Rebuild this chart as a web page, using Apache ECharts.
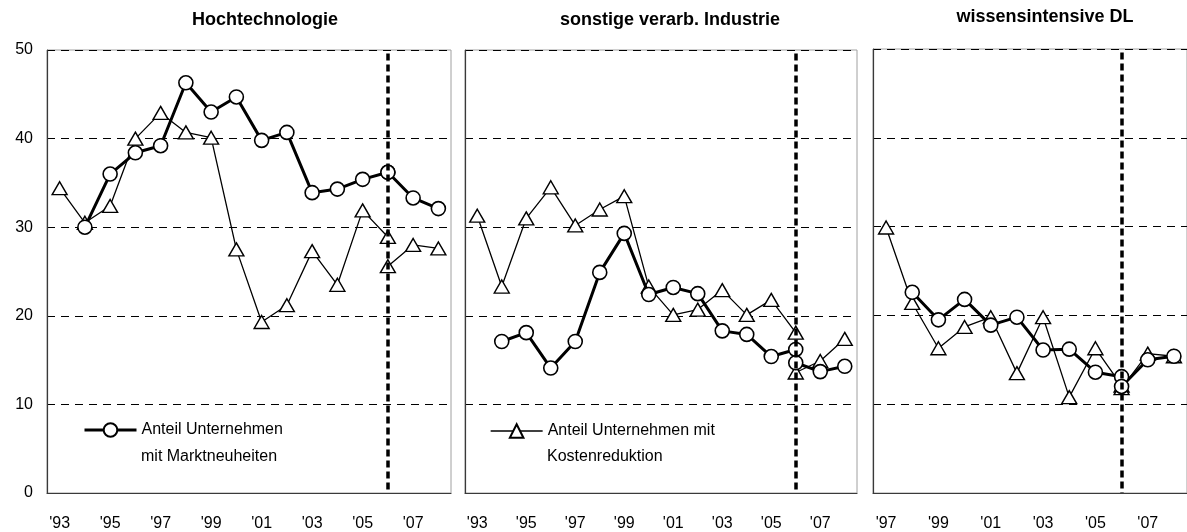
<!DOCTYPE html>
<html>
<head>
<meta charset="UTF-8">
<title>Innovation</title>
<script src="https://cdn.jsdelivr.net/npm/echarts@6/dist/echarts.min.js"></script>
<style>
  html, body { margin: 0; padding: 0; background: #fff; }
  #chart { width: 1187px; height: 532px; }
</style>
</head>
<body>
<div id="chart"></div>
<script>
// categories
var years1 = ['1993','1994','1995','1996','1997','1998','1999','2000','2001','2002','2003','2004','2005','2006','2007','2008'];
var years3 = ['1997','1998','1999','2000','2001','2002','2003','2004','2005','2006','2007','2008'];
var panelTitles = ['Hochtechnologie', 'sonstige verarb. Industrie', 'wissensintensive DL'];
var yTicks = [0, 10, 20, 30, 40, 50];

// Hochtechnologie: Marktneuheiten (circles), Kostenreduktion (triangles); old series to 2006, new from 2006
var hiMarktOld = [null, 30.0, 36.0, 38.4, 39.2, 46.3, 43.0, 44.7, 39.8, 40.7, 33.9, 34.3, 35.4, 36.2, null, null];
var hiMarktNew = [null, null, null, null, null, null, null, null, null, null, null, null, null, 36.2, 33.3, 32.1];
var hiKostOld = [34.4, 30.5, 32.4, 40.0, 42.9, 40.7, 40.1, 27.5, 19.3, 21.2, 27.3, 23.5, 31.9, 28.9, null, null];
var hiKostNew = [null, null, null, null, null, null, null, null, null, null, null, null, null, 25.6, 28.0, 27.6];

// sonstige verarb. Industrie
var soMarktOld = [null, 17.1, 18.1, 14.1, 17.1, 24.9, 29.3, 22.4, 23.2, 22.5, 18.3, 17.9, 15.4, 16.2, null, null];
var soMarktNew = [null, null, null, null, null, null, null, null, null, null, null, null, null, 14.7, 13.7, 14.3];
var soKostOld = [31.3, 23.3, 31.0, 34.5, 30.2, 32.0, 33.5, 23.3, 20.1, 20.7, 22.9, 20.1, 21.8, 18.1, null, null];
var soKostNew = [null, null, null, null, null, null, null, null, null, null, null, null, null, 13.6, 14.9, 17.4];

// wissensintensive DL (from 1997)
var wiMarktOld = [null, 22.6, 19.5, 21.8, 18.9, 19.8, 16.1, 16.2, 13.6, 13.1, null, null];
var wiMarktNew = [null, null, null, null, null, null, null, null, null, 12.0, 15.0, 15.4];
var wiKostOld = [29.9, 21.4, 16.3, 18.7, 19.8, 13.5, 19.8, 10.8, 16.3, 12.1, null, null];
var wiKostNew = [null, null, null, null, null, null, null, null, null, 11.8, 15.7, 15.4];

var breakYear = '2006';
var legendMarkt = ['Anteil Unternehmen', 'mit Marktneuheiten'];
var legendKost = ['Anteil Unternehmen mit', 'Kostenreduktion'];

var chart = echarts.init(document.getElementById('chart'));
var font = 'Liberation Sans, Arial, sans-serif';

var grids = [
  { left: 47, top: 50, width: 404, height: 444 },
  { left: 465, top: 50, width: 392, height: 444 },
  { left: 873, top: 49, width: 324, height: 444 }
];
grids.forEach(function (g) {
  g.show = true;
  g.borderColor = '#a0a0a0';
  g.borderWidth = 1;
  g.containLabel = false;
});

function xAxis(i, cats) {
  return {
    type: 'category', gridIndex: i, data: cats, boundaryGap: true,
    axisLine: { show: true, lineStyle: { color: '#3a3a3a', width: 1.2 } },
    axisTick: { show: false },
    axisLabel: {
      interval: 1, margin: 23, color: '#000', fontSize: 16, fontFamily: font,
      formatter: function (v) { return "'" + v.slice(2); }
    },
    splitLine: { show: false }
  };
}
function yAxis(i) {
  return {
    type: 'value', gridIndex: i, min: yTicks[0], max: yTicks[yTicks.length - 1], interval: 10,
    axisLine: { show: true, lineStyle: { color: '#3a3a3a', width: 1.2 } },
    axisTick: { show: false },
    axisLabel: { show: i === 0, margin: 14, color: '#000', fontSize: 16, fontFamily: font },
    splitLine: { show: true, lineStyle: { color: '#000', type: [8, 6], width: 1 } }
  };
}

function circleSeries(name, i, data, withMark) {
  var s = {
    name: name, type: 'line', xAxisIndex: i, yAxisIndex: i, data: data,
    symbol: 'circle', symbolSize: 14, showAllSymbol: true, connectNulls: false,
    lineStyle: { color: '#000', width: 3 },
    itemStyle: { color: '#fff', borderColor: '#000', borderWidth: 1.6 },
    z: 4, animation: false
  };
  if (withMark) {
    s.markLine = {
      silent: true, symbol: 'none', label: { show: false },
      lineStyle: { color: '#000', type: [7, 4], width: 3.5 },
      data: [[{ xAxis: breakYear, yAxis: 49.6 }, { xAxis: breakYear, yAxis: 0 }]]
    };
  }
  return s;
}
function triSeries(name, i, data) {
  return {
    name: name, type: 'line', xAxisIndex: i, yAxisIndex: i, data: data,
    symbol: 'triangle', symbolSize: [15, 13], showAllSymbol: true, connectNulls: false,
    lineStyle: { color: '#000', width: 1.3 },
    itemStyle: { color: '#fff', borderColor: '#000', borderWidth: 1.4 },
    z: 3, animation: false
  };
}

var textBase = { fontSize: 16, fontFamily: font, color: '#000', fontWeight: 'normal' };
var titleStyle = { fontSize: 18, fontWeight: 'bold', fontFamily: font, color: '#000' };

var option = {
  animation: false,
  backgroundColor: '#fff',
  title: [
    { text: panelTitles[0], left: 260, top: 6, textAlign: 'center', textStyle: titleStyle },
    { text: panelTitles[1], left: 665, top: 6, textAlign: 'center', textStyle: titleStyle },
    { text: panelTitles[2], left: 1040, top: 3, textAlign: 'center', textStyle: titleStyle },
    // second lines of the two legend entries
    { text: legendMarkt[1], left: 141, top: 449, padding: 0, textStyle: textBase },
    { text: legendKost[1], left: 547, top: 449, padding: 0, textStyle: textBase }
  ],
  legend: [
    {
      data: [legendMarkt[0]], left: 78, top: 417, itemWidth: 52, itemHeight: 17, itemGap: 6,
      lineStyle: { width: 3 },
      textStyle: textBase, selectedMode: false
    },
    {
      data: [legendKost[0]], left: 485, top: 418, itemWidth: 52, itemHeight: 17, itemGap: 6,
      lineStyle: { width: 1.3 },
      textStyle: textBase, selectedMode: false
    }
  ],
  grid: grids,
  xAxis: [xAxis(0, years1), xAxis(1, years1), xAxis(2, years3)],
  yAxis: [yAxis(0), yAxis(1), yAxis(2)],
  series: [
    triSeries('k1', 0, hiKostOld),
    triSeries('k1n', 0, hiKostNew),
    circleSeries(legendMarkt[0], 0, hiMarktOld, true),
    circleSeries('m1n', 0, hiMarktNew, false),
    triSeries(legendKost[0], 1, soKostOld),
    triSeries('k2n', 1, soKostNew),
    circleSeries('m2', 1, soMarktOld, true),
    circleSeries('m2n', 1, soMarktNew, false),
    triSeries('k3', 2, wiKostOld),
    triSeries('k3n', 2, wiKostNew),
    circleSeries('m3', 2, wiMarktOld, true),
    circleSeries('m3n', 2, wiMarktNew, false)
  ]
};
chart.setOption(option);
</script>
</body>
</html>
